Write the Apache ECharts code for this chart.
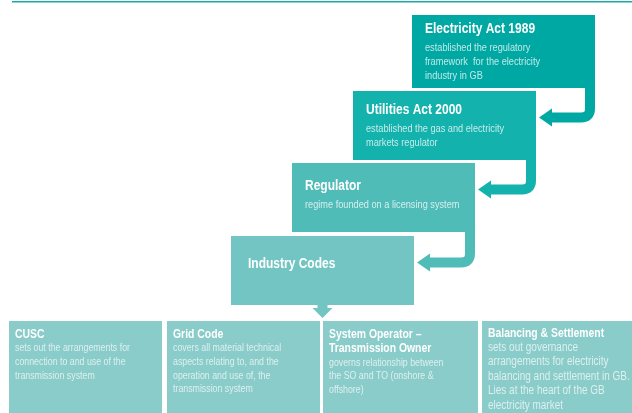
<!DOCTYPE html>
<html>
<head>
<meta charset="utf-8">
<script src="https://cdn.jsdelivr.net/npm/echarts@6/dist/echarts.min.js"></script>
<style>
  html, body { margin: 0; padding: 0; background: #fff; }
  #main { width: 632px; height: 413px; }
</style>
</head>
<body>
<div id="main"></div>
<script>
// staircase content
const stepTitles = ['Electricity Act 1989', 'Utilities Act 2000', 'Regulator', 'Industry Codes']
const stepNotes = [
  ['established the regulatory', 'framework  for the electricity', 'industry in GB'],
  ['established the gas and electricity', 'markets regulator'],
  ['regime founded on a licensing system'],
  []
]

// bottom row content
const codeTitles = [['CUSC'], ['Grid Code'], ['System Operator \u2013', 'Transmission Owner'], ['Balancing & Settlement']]
const codeNotes = [
  ['sets out the arrangements for', 'connection to and use of the', 'transmission system'],
  ['covers all material technical', 'aspects relating to, and the', 'operation and use of, the', 'transmission system'],
  ['governs relationship between', 'the SO and TO (onshore &', 'offshore)'],
  ['sets out governance', 'arrangements for electricity', 'balancing and settlement in GB.', 'Lies at the heart of the GB', 'electricity market']
]

// layout (pixel units of the hidden axes)
const stepLeft = [412, 353, 292, 231]
const stepTop = [15, 91, 163, 236]
const stepBottom = [88, 160, 232, 305]
const stepWidth = 183
const stepTitleY = [29, 110, 186, 264]
const stepTextX = [13, 13, 13, 17]
const stepColors = ['#00A8A3', '#13B2AD', '#50BCB8', '#72C5C2']
const codeLeft = [9, 167, 323, 482]
const codeRight = [162, 320, 478, 632]
const codeTop = 321
const codeTitleY = [334, 334, 334, 333]
const codeNoteSize = [11, 11, 11, 12.5]
const codeNoteGap = [13.6, 13.6, 13.6, 14.5]
const codeColor = '#8ACCCA'
const FONT = '"Liberation Sans", Arial, sans-serif'
const NARROW = 0.8

const chart = echarts.init(document.getElementById('main'))

function label (pt, text, font, fill) {
  return {
    type: 'text', x: pt[0], y: pt[1], scaleX: NARROW,
    style: { text: text, fill: fill, font: font, verticalAlign: 'middle', align: 'left' }
  }
}

function renderStep (params, api) {
  const i = params.dataIndex
  const c = api.coord.bind(api)
  const color = stepColors[i]
  const right = stepLeft[i] + stepWidth
  const p0 = c([stepLeft[i], stepTop[i]])
  const p1 = c([right, stepBottom[i]])
  const children = [{
    type: 'rect',
    shape: { x: p0[0], y: p0[1], width: p1[0] - p0[0], height: p1[1] - p0[1] },
    style: { fill: color }
  }]
  const tx = stepLeft[i] + stepTextX[i]
  children.push(label(c([tx, stepTitleY[i]]), stepTitles[i], 'bold 15px ' + FONT, '#fff'))
  stepNotes[i].forEach(function (line, k) {
    children.push(label(c([tx, stepTitleY[i] + 19 + k * 14]), line, '11.5px ' + FONT, 'rgba(255,255,255,0.75)'))
  })
  if (i < stepTitles.length - 1) {
    // bent arrow into the next step
    const ay = stepTop[i + 1] + 26.5
    const sx = right - 5
    const tipX = stepLeft[i + 1] + stepWidth + 3
    const r = 9
    const a = c([sx, stepBottom[i] - 1])
    const b = c([sx, ay - r])
    const k = c([sx, ay])
    const d = c([sx - r, ay])
    const e = c([tipX + 12, ay])
    children.push({
      type: 'path',
      shape: { pathData: 'M' + a[0] + ' ' + a[1] + ' L' + b[0] + ' ' + b[1] + ' Q' + k[0] + ' ' + k[1] + ' ' + d[0] + ' ' + d[1] + ' L' + e[0] + ' ' + e[1] },
      style: { stroke: color, lineWidth: 10, fill: null }
    })
    children.push({
      type: 'polygon',
      shape: { points: [c([tipX, ay]), c([tipX + 13, ay - 9]), c([tipX + 13, ay + 9])] },
      style: { fill: color }
    })
  } else {
    // down arrow to the code row
    const cx = stepLeft[i] + stepWidth / 2
    const yb = stepBottom[i]
    const pts = [[cx - 5, yb - 1], [cx + 5, yb - 1], [cx + 5, yb + 3], [cx + 10, yb + 3], [cx, yb + 13], [cx - 10, yb + 3], [cx - 5, yb + 3]]
    children.push({
      type: 'polygon',
      shape: { points: pts.map(c) },
      style: { fill: color }
    })
  }
  return { type: 'group', children: children }
}

function renderCode (params, api) {
  const i = params.dataIndex
  const c = api.coord.bind(api)
  const p0 = c([codeLeft[i], codeTop])
  const p1 = c([codeRight[i], 413])
  const children = [{
    type: 'rect',
    shape: { x: p0[0], y: p0[1], width: p1[0] - p0[0], height: p1[1] - p0[1] },
    style: { fill: codeColor }
  }]
  const tx = codeLeft[i] + 6
  let y = codeTitleY[i]
  codeTitles[i].forEach(function (line) {
    children.push(label(c([tx, y]), line, 'bold 13px ' + FONT, '#fff'))
    y += 14.3
  })
  codeNotes[i].forEach(function (line) {
    children.push(label(c([tx, y]), line, codeNoteSize[i] + 'px ' + FONT, 'rgba(255,255,255,0.7)'))
    y += codeNoteGap[i]
  })
  return { type: 'group', children: children }
}

const option = {
  animation: false,
  grid: { left: 0, right: 0, top: 0, bottom: 0 },
  xAxis: { type: 'value', min: 0, max: 632, show: false },
  yAxis: { type: 'value', min: 0, max: 413, inverse: true, show: false },
  graphic: [
    { type: 'line', shape: { x1: 12, y1: 1.5, x2: 632, y2: 1.5 }, style: { stroke: '#1AA9A4', lineWidth: 1 } },
    { type: 'line', shape: { x1: 12, y1: 2.5, x2: 632, y2: 2.5 }, style: { stroke: '#8FD3D0', lineWidth: 1 } }
  ],
  series: [
    {
      type: 'custom',
      name: 'steps',
      clip: false,
      renderItem: renderStep,
      data: stepTitles.map(function (t, i) { return { name: t, value: [i, 0] } })
    },
    {
      type: 'custom',
      name: 'codes',
      clip: false,
      renderItem: renderCode,
      data: codeTitles.map(function (t, i) { return { name: t.join(' '), value: [i, 0] } })
    }
  ]
}
chart.setOption(option)
</script>
</body>
</html>
